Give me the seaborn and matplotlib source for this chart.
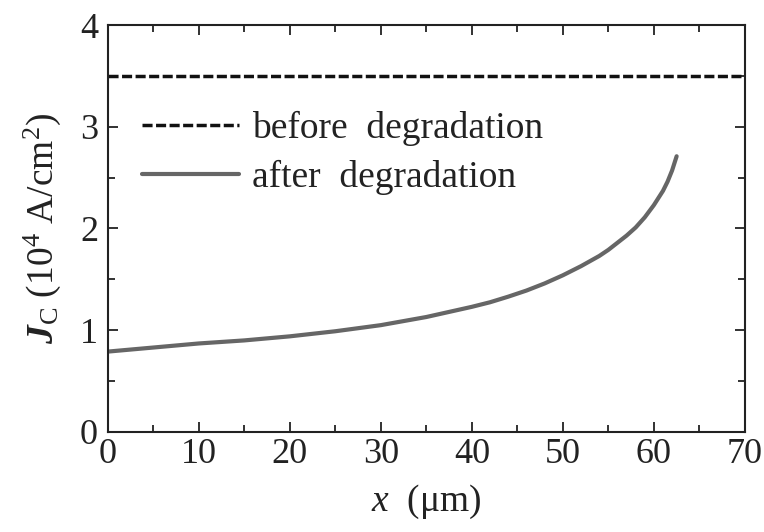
import numpy as np
import pandas as pd
import matplotlib
matplotlib.use("Agg")
import matplotlib.pyplot as plt
import seaborn as sns
from matplotlib.ticker import MultipleLocator

# Data
x_before = [0, 70]
jc_before = [3.5, 3.5]
x_after = [0, 5, 10, 15, 20, 25, 30, 35, 40, 42, 44, 46, 48, 50, 52, 54,
           55, 56, 57, 58, 59, 60, 61, 61.5, 62, 62.5]
jc_after = [0.79, 0.83, 0.87, 0.90, 0.94, 0.99, 1.05, 1.13, 1.23, 1.275,
            1.33, 1.39, 1.46, 1.54, 1.63, 1.73, 1.79, 1.86, 1.93, 2.01,
            2.11, 2.23, 2.37, 2.46, 2.57, 2.71]
x_ticks = [0, 10, 20, 30, 40, 50, 60, 70]
y_ticks = [0, 1, 2, 3, 4]
labels = ["before  degradation", "after  degradation"]

sns.set_theme(style="ticks")
plt.rcParams['font.family'] = ['Liberation Serif', 'DejaVu Serif']
plt.rcParams['mathtext.fontset'] = 'custom'
plt.rcParams['mathtext.rm'] = 'Liberation Serif'
plt.rcParams['mathtext.it'] = 'Liberation Serif:italic'
plt.rcParams['mathtext.bf'] = 'Liberation Serif:bold'
plt.rcParams['mathtext.bfit'] = 'Liberation Serif:italic:bold'

fig = plt.figure(figsize=(7.64, 5.32), dpi=100)
ax = fig.add_axes([0.141, 0.188, 0.834, 0.765])

df_b = pd.DataFrame({"x": x_before, "y": jc_before})
df_a = pd.DataFrame({"x": x_after, "y": jc_after})
sns.lineplot(data=df_b, x="x", y="y", ax=ax, color="#111111", lw=2.5,
             linestyle=(0, (2.9, 1.0)), label=labels[0])
sns.lineplot(data=df_a, x="x", y="y", ax=ax, color="#666666", lw=3.0,
             label=labels[1])

ax.set_xlim(0, 70)
ax.set_ylim(0, 4)
ax.set_xticks(x_ticks)
ax.set_yticks(y_ticks)
ax.xaxis.set_minor_locator(MultipleLocator(5))
ax.yaxis.set_minor_locator(MultipleLocator(0.5))
ax.tick_params(which='both', direction='in', top=True, right=True,
               width=1.3, color='#222222', labelsize=26, labelcolor='#222222')
ax.tick_params(which='major', length=7)
ax.tick_params(which='minor', length=5)
ax.tick_params(axis='x', which='major', pad=4)
ax.tick_params(axis='y', which='major', pad=7)
for s in ax.spines.values():
    s.set_linewidth(1.5)
    s.set_color('#222222')

ax.set_xlabel(r"$x$  ($\mathrm{\mu}$m)", fontsize=27, color='#222222', labelpad=9)
ax.set_ylabel(r"$\boldsymbol{J}_{\mathrm{C}}$ (10$^4$ A/cm$^2$)", fontsize=27,
              color='#222222', labelpad=12)

leg = ax.legend(loc='center left', bbox_to_anchor=(0.030, 0.686), frameon=False,
                fontsize=27, handlelength=2.6, handletextpad=0.35,
                labelspacing=0.38, borderaxespad=0, labelcolor='#222222')

fig.savefig("out.png", dpi=100)
